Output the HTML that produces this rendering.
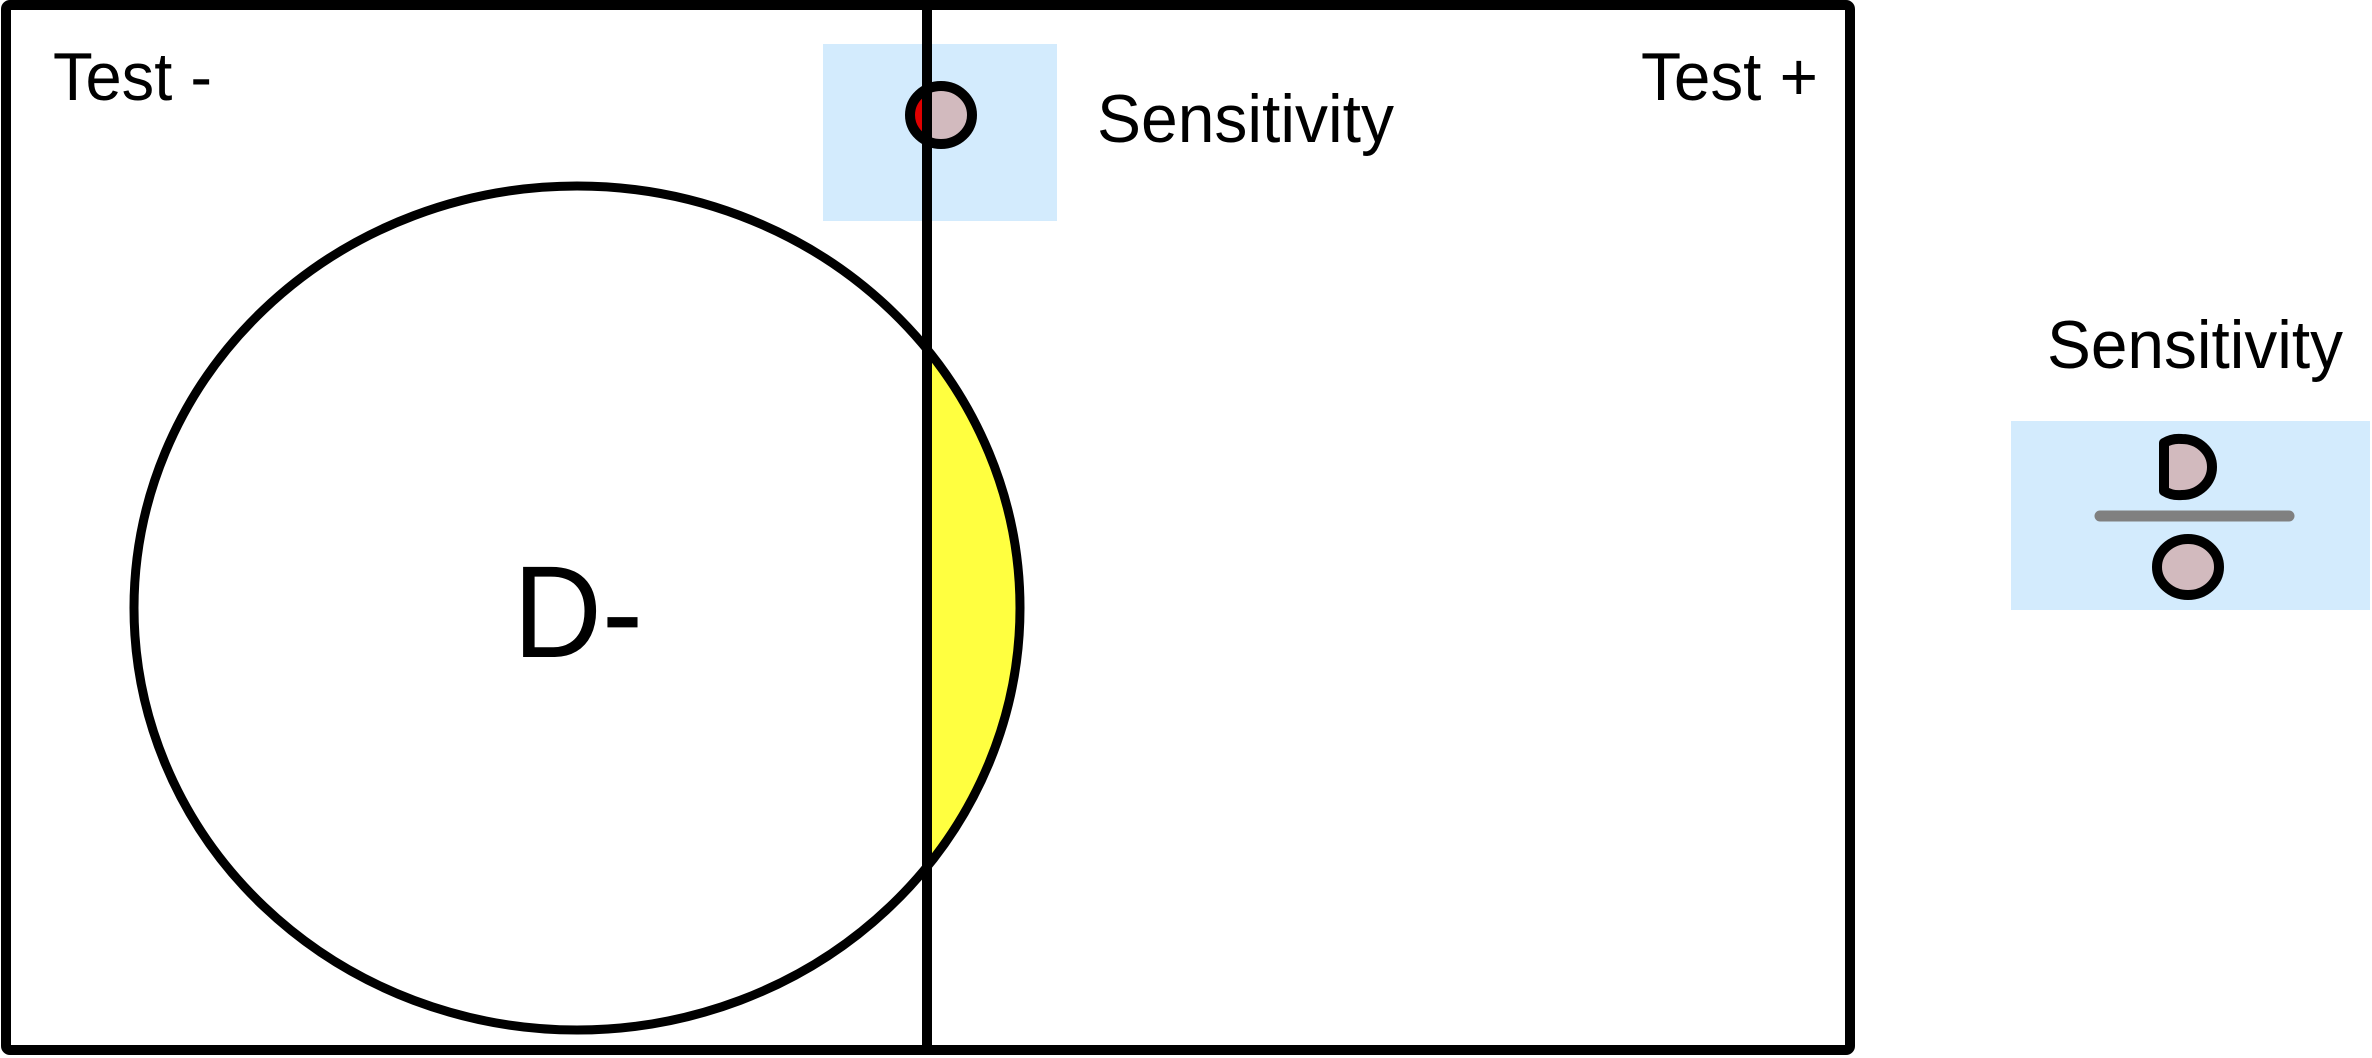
<!DOCTYPE html>
<html><head><meta charset="utf-8"><style>html,body{margin:0;padding:0;background:#fff}svg{display:block}</style></head>
<body>
<svg width="2372" height="1058" viewBox="0 0 2372 1058" xmlns="http://www.w3.org/2000/svg" font-family="Liberation Sans, Arial, sans-serif">
<defs>
<clipPath id="r"><rect x="927" y="0" width="1000" height="1058"/></clipPath>
<clipPath id="l"><rect x="0" y="0" width="927" height="1058"/></clipPath>
</defs>
<rect x="0" y="0" width="2372" height="1058" fill="#fff"/>
<rect x="823" y="44" width="234" height="177" fill="#d3ebfd"/>
<rect x="2011" y="421" width="359" height="189" fill="#d3ebfd"/>
<ellipse cx="577" cy="608" rx="443" ry="422" fill="#ffff40" clip-path="url(#r)"/>
<ellipse cx="577" cy="608" rx="443" ry="422" fill="none" stroke="#000" stroke-width="9"/>
<ellipse cx="941" cy="115" rx="31" ry="29" fill="#d2babe"/>
<ellipse cx="941" cy="115" rx="31" ry="29" fill="#e00000" clip-path="url(#l)"/>
<ellipse cx="941" cy="115" rx="31" ry="29" fill="none" stroke="#000" stroke-width="10"/>
<rect x="6" y="5" width="1844" height="1045" rx="4" fill="none" stroke="#000" stroke-width="10"/>
<line x1="927" y1="5" x2="927" y2="1050" stroke="#000" stroke-width="10"/>
<text x="53" y="100" font-size="68" textLength="159" lengthAdjust="spacingAndGlyphs">Test -</text>
<text x="1641" y="100" font-size="68" textLength="177" lengthAdjust="spacingAndGlyphs">Test +</text>
<text x="1097" y="142" font-size="68" textLength="297" lengthAdjust="spacingAndGlyphs">Sensitivity</text>
<text x="2047" y="368" font-size="68" textLength="296" lengthAdjust="spacingAndGlyphs">Sensitivity</text>
<text x="513" y="657" font-size="131" textLength="130" lengthAdjust="spacingAndGlyphs">D-</text>
<path d="M2164 443 Q2172 438 2182 439 A30 28 0 0 1 2182 495 Q2172 496 2164 491 Z" fill="#d2babe" stroke="#000" stroke-width="10" stroke-linejoin="round"/>
<line x1="2100" y1="516" x2="2289" y2="516" stroke="#808080" stroke-width="11" stroke-linecap="round"/>
<ellipse cx="2188" cy="567" rx="31" ry="28" fill="#d2babe" stroke="#000" stroke-width="10"/>
</svg>
</body></html>
